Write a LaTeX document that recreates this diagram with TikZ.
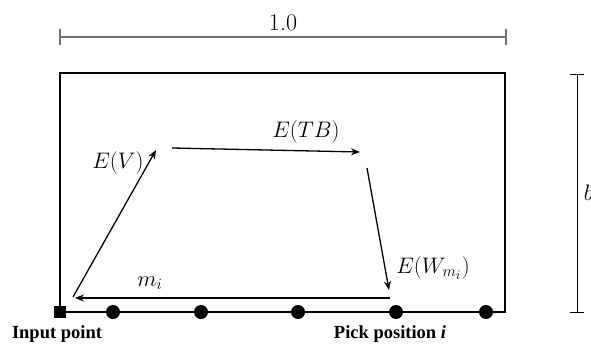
\documentclass[tikz,border=0pt]{standalone}
\usepackage{graphicx}
\usepackage{fontspec}
\newfontfamily\labelfont{Liberation Serif}
\usetikzlibrary{positioning,calc,arrows.meta}
\definecolor{dimgray}{HTML}{707070}
\newcommand{\mlab}[1]{\scalebox{1.3}{$#1$}}

\begin{document}
\begin{tikzpicture}[x=1pt, y=-1pt, font=\fontsize{17.28}{21}\selectfont,
  dot/.style={circle, fill=black, inner sep=0pt, minimum size=14pt},
  inbox/.style={rectangle, fill=black, inner sep=0pt, minimum size=12pt},
  flow/.style={line width=1.3pt, -{Stealth[length=9pt, width=7pt]}},
  tag/.style={font=\labelfont\bfseries\fontsize{18.5}{21}\selectfont}]
\useasboundingbox (0,0) rectangle (591,350);
% width of the area
\coordinate (wl) at (60,37);
\coordinate (wr) at (506,37);
\draw[dimgray, line width=1.2pt] (wl) -- node[above=2pt, black, font=\fontsize{24}{28}\selectfont] (wlab) {1.0} (wr);
\draw[dimgray, line width=1.2pt] ([yshift=-8]wl) -- ([yshift=8]wl);
\draw[dimgray, line width=1.2pt] ([yshift=-8]wr) -- ([yshift=8]wr);
% the area
\coordinate (nw) at (60,73);
\coordinate (se) at (505,312);
\draw[line width=1.8pt] (nw) rectangle (se);
% depth
\coordinate (bt) at (577,74);
\coordinate (bb) at (577,312);
\draw[line width=0.9pt] (bt) -- node[right=3pt] (blab) {\mlab{b}} (bb);
\draw[line width=0.9pt] ([xshift=-7]bt) -- ([xshift=7]bt);
\draw[line width=0.9pt] ([xshift=-7]bb) -- ([xshift=7]bb);
% input point and pick positions
\node[inbox] (in) at (60,312) {};
\foreach \x [count=\i] in {113,201,298,396,486}
  \node[dot] (p\i) at (\x,312) {};
% the tour
\coordinate (vs) at (73,297);  \coordinate (ve) at (156,150);
\coordinate (ts) at (172,148); \coordinate (te) at (360,152);
\coordinate (ws) at (367,168); \coordinate (we) at (389,290);
\coordinate (ms) at (390,298); \coordinate (me) at (75,298);
\draw[flow] (vs) -- (ve);
\draw[flow] (ts) -- (te);
\draw[flow] (ws) -- (we);
\draw[flow] (ms) -- (me);
\node (ev) at (118,163) {\mlab{E(V)}};
\node (etb) at (306,132) {\mlab{E(TB)}};
\node (ew) at (433,268) {\mlab{E(W_{m_i})}};
\node (mi) at (150,283) {\mlab{m_i}};
\node[tag] (inl) at (57,334) {Input point};
\node[tag] (pkl) at (390,334) {Pick position \textit{i}};
\end{tikzpicture}
\end{document}
